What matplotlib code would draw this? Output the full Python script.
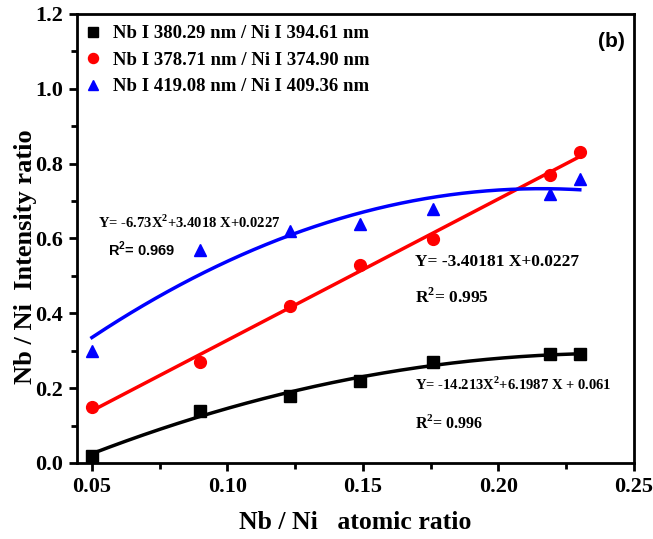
import numpy as np
import matplotlib
matplotlib.use("Agg")
import matplotlib.pyplot as plt
from matplotlib.ticker import MultipleLocator, FormatStrFormatter

plt.rcParams["mathtext.fontset"] = "custom"
plt.rcParams["mathtext.rm"] = "Liberation Serif:bold"
plt.rcParams["mathtext.bf"] = "Liberation Serif:bold"
plt.rcParams["mathtext.sf"] = "Liberation Sans:bold"

x = [0.05, 0.09, 0.123, 0.149, 0.176, 0.219, 0.23]
y_black = [0.02, 0.14, 0.18, 0.22, 0.27, 0.29, 0.29]
y_red = [0.15, 0.27, 0.42, 0.53, 0.60, 0.77, 0.83]
y_blue = [0.30, 0.57, 0.62, 0.64, 0.68, 0.72, 0.76]

labels = ["Nb I 380.29 nm / Ni I 394.61 nm",
          "Nb I 378.71 nm / Ni I 374.90 nm",
          "Nb I 419.08 nm / Ni I 409.36 nm"]

serif = "Liberation Serif"
sans = "Liberation Sans"

fig = plt.figure(figsize=(6.53, 5.39), dpi=100)
ax = fig.add_axes([77/653, 1-463/539, (634-77)/653, (463-14)/539])

xs = np.linspace(min(x), max(x), 200)
pb = np.polyfit(x, y_black, 2)
pr = np.polyfit(x, y_red, 1)
pbl = np.polyfit(x, y_blue, 2)

ax.plot(xs, np.polyval(pb, xs), color="black", lw=2.5, zorder=2)
ax.plot(xs, np.polyval(pr, xs), color="red", lw=2.5, zorder=2)
ax.plot(xs, np.polyval(pbl, xs), color="blue", lw=2.5, zorder=2)

ax.plot(x, y_black, "s", color="black", ms=8, ls="none", label=labels[0], zorder=3)
ax.plot(x, y_red, "o", color="red", ms=8.5, ls="none", label=labels[1], zorder=3)
ax.plot(x, y_blue, "^", color="blue", ms=9, ls="none", label=labels[2], zorder=3)

ax.set_xlim(0.0445, 0.25)
ax.set_ylim(0.0, 1.2)
ax.xaxis.set_major_locator(MultipleLocator(0.05))
ax.xaxis.set_minor_locator(MultipleLocator(0.025))
ax.yaxis.set_major_locator(MultipleLocator(0.2))
ax.yaxis.set_minor_locator(MultipleLocator(0.1))
ax.xaxis.set_major_formatter(FormatStrFormatter("%.2f"))
ax.yaxis.set_major_formatter(FormatStrFormatter("%.1f"))

for s in ax.spines.values():
    s.set_linewidth(2)
ax.tick_params(which="major", direction="out", length=6, width=2, top=False, right=False, pad=4)
ax.tick_params(which="minor", direction="out", length=4, width=2, top=False, right=False)
for lab in ax.get_xticklabels() + ax.get_yticklabels():
    lab.set_fontfamily(serif)
    lab.set_fontweight("bold")
    lab.set_fontsize(16)

ax.set_xlabel("Nb / Ni   atomic ratio", fontfamily=serif, fontweight="bold", fontsize=18.5)
ax.set_ylabel("Nb / Ni  Intensity ratio", fontfamily=serif, fontweight="bold", fontsize=19)
ax.xaxis.set_label_coords(0.5, -0.108)
ax.yaxis.set_label_coords(-0.072, 0.46)

leg = ax.legend(loc="upper left", frameon=False, prop={"family": serif, "weight": "bold", "size": 13.5},
                handletextpad=0.83, labelspacing=0.5, borderaxespad=0.2, handlelength=0.5, markerscale=0.85)

ax.text(0.2465, 1.127, "(b)", fontfamily=sans, fontweight="bold", fontsize=15, ha="right", va="center")

ax.text(0.0522, 0.642, r"Y= -6.73X$^{\mathbf{2}}$+3.4018 X+0.0227", fontfamily=serif, fontweight="bold",
        fontsize=10.5, ha="left", va="center")
ax.text(0.0559, 0.570, r"R$^{\mathsf{2}}$= 0.969", fontfamily=sans, fontweight="bold", fontsize=10.5,
        ha="left", va="center")
ax.text(0.1692, 0.537, "Y= -3.40181 X+0.0227", fontfamily=serif, fontweight="bold", fontsize=12.5,
        ha="left", va="center")
ax.text(0.1692, 0.444, r"R$^{\mathbf{2}}$= 0.995", fontfamily=serif, fontweight="bold", fontsize=12.5,
        ha="left", va="center")
ax.text(0.1692, 0.211, r"Y= -14.213X$^{\mathbf{2}}$+6.1987 X + 0.061", fontfamily=serif, fontweight="bold",
        fontsize=10.5, ha="left", va="center")
ax.text(0.1692, 0.107, r"R$^{\mathbf{2}}$= 0.996", fontfamily=serif, fontweight="bold", fontsize=11.5,
        ha="left", va="center")

fig.savefig("out.png", dpi=100)
